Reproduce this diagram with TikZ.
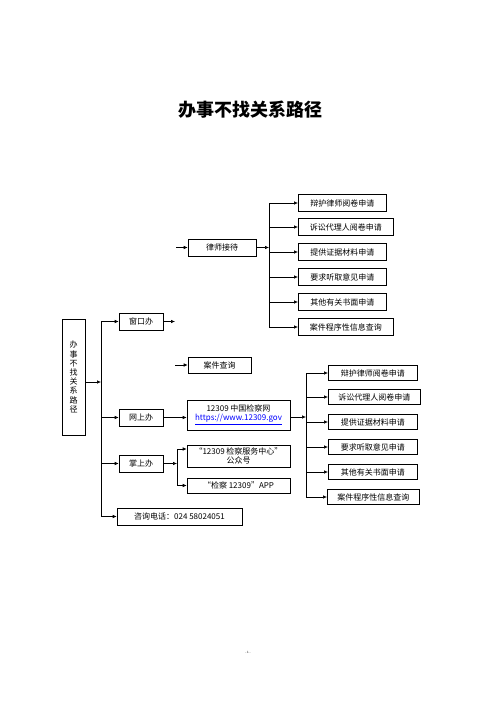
\documentclass[tikz,border=0pt]{standalone}
\usepackage{fontspec}
\newfontfamily\cjk{Noto Sans CJK SC}
\usetikzlibrary{arrows.meta}
\tikzset{
  bx/.style={draw, line width=0.6pt, inner sep=0pt, font=\cjk\fontsize{8}{9}\selectfont, align=center},
  arr/.style={line width=0.6pt, -{Latex[length=4pt,width=3.5pt]}},
  ln/.style={line width=0.6pt},
}
\begin{document}
\begin{tikzpicture}[x=1pt,y=-1pt]
\useasboundingbox (0,0) rectangle (499,707);
\fill[white] (0,0) rectangle (499,707);
\node[font=\cjk\bfseries\fontsize{18}{20}\selectfont] (title) at (250,110) {办事不找关系路径};

\node[bx, minimum width=23pt, minimum height=116pt, font=\cjk\fontsize{8}{9.2}\selectfont] (left) at (73.5,377) {办\\事\\不\\找\\关\\系\\路\\径};

\node[bx, minimum width=44pt, minimum height=17pt] (chuang) at (141,321.5) {窗口办};
\node[bx, minimum width=44pt, minimum height=17pt] (wang) at (141,417.5) {网上办};
\node[bx, minimum width=44pt, minimum height=17pt] (zhang) at (141,463.5) {掌上办};
\node[bx, minimum width=125pt, minimum height=17pt] (zixun) at (179.5,516.5) {咨询电话：024 58024051};

\node[bx, minimum width=68pt, minimum height=17pt] (lvshi) at (222,247.5) {律师接待};
\node[bx, minimum width=63pt, minimum height=16pt] (chaxun) at (219.5,365) {案件查询};
\node[bx, minimum width=103pt, minimum height=30pt] (web) at (238.5,415) {12309 中国检察网\\{\color{blue}\underline{https://www.12309.gov}}};
\node[bx, minimum width=103pt, minimum height=22pt] (gzh) at (238.5,456) {“12309 检察服务中心”\\公众号};
\node[bx, minimum width=103pt, minimum height=15pt] (app) at (238.5,485.5) {“检察 12309”APP};

% top right group
\node[bx, anchor=west, minimum width=88pt, minimum height=17pt] (a1) at (298,203) {辩护律师阅卷申请};
\node[bx, anchor=west, minimum width=95pt, minimum height=17pt] (a2) at (298,227) {诉讼代理人阅卷申请};
\node[bx, anchor=west, minimum width=88pt, minimum height=17pt] (a3) at (298,252) {提供证据材料申请};
\node[bx, anchor=west, minimum width=88pt, minimum height=17pt] (a4) at (298,277) {要求听取意见申请};
\node[bx, anchor=west, minimum width=88pt, minimum height=17pt] (a5) at (298,302) {其他有关书面申请};
\node[bx, anchor=west, minimum width=95pt, minimum height=17pt] (a6) at (298,327) {案件程序性信息查询};

% bottom right group
\node[bx, anchor=west, minimum width=89pt, minimum height=15pt] (b1) at (328,373) {辩护律师阅卷申请};
\node[bx, anchor=west, minimum width=92pt, minimum height=15pt] (b2) at (328,397) {诉讼代理人阅卷申请};
\node[bx, anchor=west, minimum width=89pt, minimum height=15pt] (b3) at (328,422) {提供证据材料申请};
\node[bx, anchor=west, minimum width=89pt, minimum height=15pt] (b4) at (328,447) {要求听取意见申请};
\node[bx, anchor=west, minimum width=89pt, minimum height=15pt] (b5) at (328,472) {其他有关书面申请};
\node[bx, anchor=west, minimum width=92pt, minimum height=15pt] (b6) at (327,497) {案件程序性信息查询};

\node[font=\cjk\fontsize{3}{4}\selectfont] (pg) at (248,652) {- 1 -};

% main trunk
\coordinate (tk) at (101,382);
\draw[arr] (left.east|-tk) -- (tk);
\draw[ln] (tk|-chuang.west) -- (tk|-zixun.west);
\draw[arr] (tk|-chuang.west) -- (chuang.west);
\draw[arr] (tk|-wang.west) -- (wang.west);
\draw[arr] (tk|-zhang.west) -- (zhang.west);
\draw[arr] (tk|-zixun.west) -- (zixun.west);

% loose arrows
\coordinate (c1) at (175,321.5);
\draw[arr] (chuang.east) -- (c1);
\coordinate (c2) at (176,247.5);
\draw[arr] (c2) -- (lvshi.west);
\coordinate (c3) at (175,365);
\draw[arr] (c3) -- (chaxun.west);

% lawyer branch
\coordinate (br1) at (269,247.5);
\draw[arr] (lvshi.east) -- (br1);
\draw[ln] (br1|-a1.west) -- (br1|-a6.west);
\foreach \n in {a1,a2,a3,a4,a5,a6} \draw[arr] (br1|-\n.west) -- (\n.west);

% web branch
\draw[arr] (wang.east) -- (web.west|-wang.east);
\coordinate (br2) at (306,417);
\draw[arr] (web.east|-br2) -- (br2);
\draw[ln] (br2|-b1.west) -- (br2|-b6.west);
\foreach \n in {b1,b2,b3,b4,b5,b6} \draw[arr] (br2|-\n.west) -- (\n.west);

% mobile branch
\coordinate (br3) at (177,463.5);
\draw[arr] (zhang.east) -- (br3);
\coordinate (g1) at (177,449);
\draw[ln] (g1) -- (br3|-app.west);
\draw[arr] (g1) -- (gzh.west|-g1);
\draw[arr] (br3|-app.west) -- (app.west);
\end{tikzpicture}
\end{document}
